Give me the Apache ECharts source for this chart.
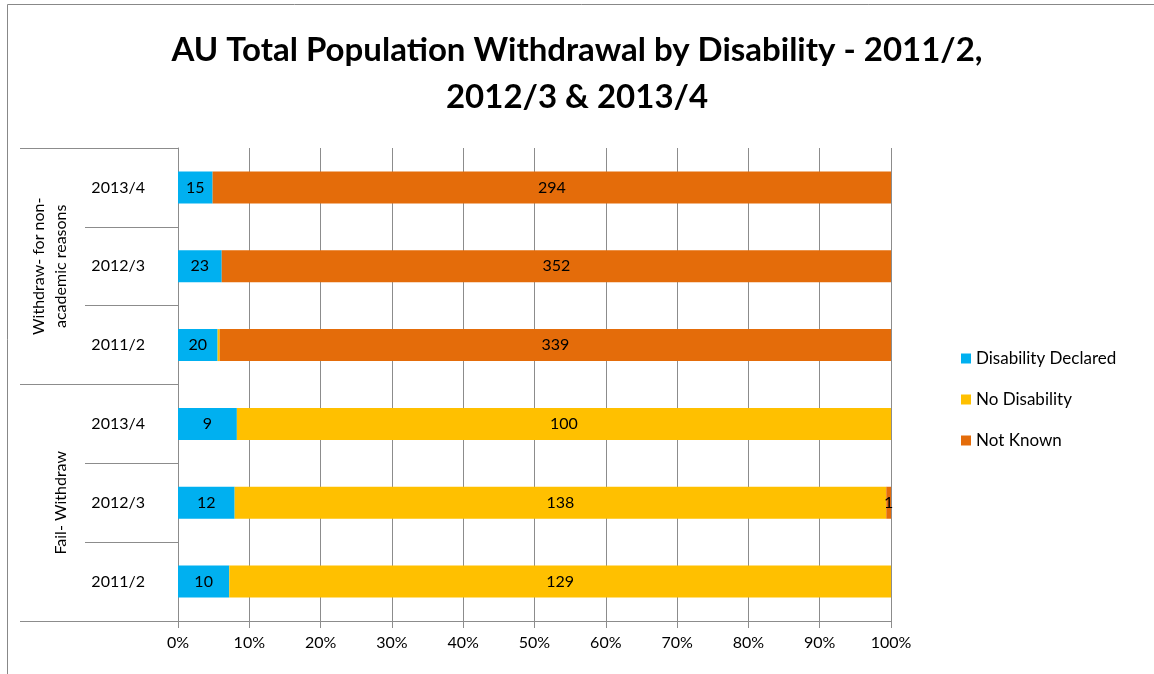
<!DOCTYPE html>
<html>
<head>
<meta charset="utf-8">
<script src="https://cdn.jsdelivr.net/npm/echarts@6/dist/echarts.min.js"></script>
<style>
  html, body { margin: 0; padding: 0; background: #fff; }
  #chart { width: 1154px; height: 674px; }
</style>
</head>
<body>
<div id="chart"></div>
<script>
// rows from bottom to top
const categories = ["2011/2", "2012/3", "2013/4", "2011/2", "2012/3", "2013/4"];
const groups = ["Fail- Withdraw", "Withdraw- for non-\nacademic reasons"];
const disabilityDeclared = [10, 12, 9, 20, 23, 15];
const noDisability = [129, 138, 100, 1, 0, 0];
const notKnown = [0, 1, 0, 339, 352, 294];
const xTicks = [0, 10, 20, 30, 40, 50, 60, 70, 80, 90, 100];

const totals = categories.map((c, i) => disabilityDeclared[i] + noDisability[i] + notKnown[i]);

function toPct(arr, hideIdx) {
  return arr.map((v, i) => {
    const item = { value: v / totals[i] * 100, raw: v };
    if (hideIdx === i) item.label = { show: false };
    return item;
  });
}

const fontFamily = "Lato, 'Open Sans', sans-serif";
const gridColor = "#8c8c8c";

const labelCfg = {
  show: true,
  position: "inside",
  color: "#000",
  fontSize: 16,
  fontFamily: fontFamily,
  formatter: (p) => (p.data.raw > 0 ? String(p.data.raw) : "")
};

const chart = echarts.init(document.getElementById("chart"));
chart.setOption({
  backgroundColor: "#fff",
  animation: false,
  title: {
    text: "AU Total Population Withdrawal by Disability - 2011/2,\n2012/3 & 2013/4",
    left: "center",
    top: 22,
    textStyle: {
      fontFamily: fontFamily,
      fontWeight: "bold",
      fontSize: 33,
      lineHeight: 47,
      color: "#000"
    }
  },
  legend: {
    orient: "vertical",
    left: 956,
    top: 345,
    icon: "rect",
    itemWidth: 10,
    itemHeight: 10,
    itemGap: 24,
    textStyle: { fontFamily: fontFamily, fontSize: 17, color: "#000" },
    data: ["Disability Declared", "No Disability", "Not Known"]
  },
  graphic: [{
    type: "rect",
    shape: { x: 7.5, y: 4.5, width: 1160, height: 700 },
    style: { fill: "none", stroke: "#888", lineWidth: 1 },
    silent: true
  }],
  grid: { left: 178, right: 263, top: 148, bottom: 53 },
  xAxis: {
    type: "value",
    min: 0,
    max: 100,
    interval: 10,
    axisLine: { show: true, lineStyle: { color: gridColor } },
    axisTick: { show: true, length: 7, lineStyle: { color: gridColor } },
    splitLine: { show: true, lineStyle: { color: gridColor } },
    axisLabel: {
      color: "#000",
      fontSize: 16,
      fontFamily: fontFamily,
      margin: 14,
      formatter: (v) => (xTicks.includes(v) ? v + "%" : "")
    }
  },
  yAxis: [{
    type: "category",
    data: categories,
    axisLine: { show: true, lineStyle: { color: gridColor } },
    axisTick: { show: true, length: 93, lineStyle: { color: gridColor } },
    axisLabel: { color: "#000", fontSize: 16, fontFamily: fontFamily, margin: 33 }
  }, {
    type: "category",
    data: groups,
    position: "left",
    offset: 93,
    axisLine: { show: false },
    axisTick: { show: true, length: 65, lineStyle: { color: gridColor } },
    axisLabel: {
      color: "#000",
      fontSize: 16,
      fontFamily: fontFamily,
      rotate: 90,
      margin: 13,
      lineHeight: 22
    }
  }],
  series: [{
    name: "Disability Declared",
    type: "bar",
    stack: "total",
    barWidth: 32,
    itemStyle: { color: "#00B0F0" },
    label: labelCfg,
    data: toPct(disabilityDeclared)
  }, {
    name: "No Disability",
    type: "bar",
    stack: "total",
    barWidth: 32,
    itemStyle: { color: "#FFC000" },
    label: labelCfg,
    data: toPct(noDisability, 3)
  }, {
    name: "Not Known",
    type: "bar",
    stack: "total",
    barWidth: 32,
    itemStyle: { color: "#E46C0A" },
    label: labelCfg,
    data: toPct(notKnown)
  }]
});
</script>
</body>
</html>
